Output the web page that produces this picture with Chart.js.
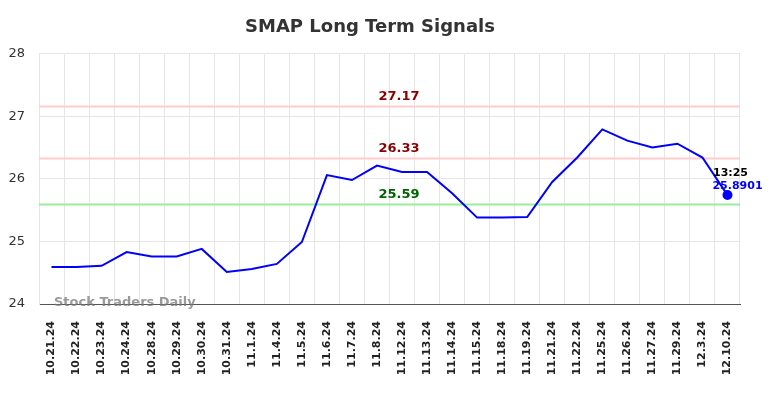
<!DOCTYPE html>
<html>
<head>
<meta charset="utf-8">
<script src="https://cdn.jsdelivr.net/npm/chart.js@4"></script>
<style>
  html, body { margin: 0; padding: 0; background: #fff; }
</style>
</head>
<body>
<canvas id="chart" width="784" height="398"></canvas>
<script>
// data
const dates = ['10.21.24', '10.22.24', '10.23.24', '10.24.24', '10.28.24', '10.29.24', '10.30.24', '10.31.24',
  '11.1.24', '11.4.24', '11.5.24', '11.6.24', '11.7.24', '11.8.24', '11.12.24', '11.13.24', '11.14.24',
  '11.15.24', '11.18.24', '11.19.24', '11.21.24', '11.22.24', '11.25.24', '11.26.24', '11.27.24',
  '11.29.24', '12.3.24', '12.10.24']
const prices = [24.59, 24.59, 24.61, 24.83, 24.76, 24.76, 24.88, 24.51, 24.56, 24.64, 24.99, 26.06, 25.98,
  26.21, 26.11, 26.11, 25.77, 25.38, 25.38, 25.39, 25.95, 26.34, 26.79, 26.61, 26.50, 26.56, 26.34, 25.74]
const levels = [27.17, 26.33, 25.59]
const levelLabels = ['27.17', '26.33', '25.59']
const yTicks = [24, 25, 26, 27, 28]
const lastTime = '13:25'
const lastPrice = '25.8901'

const levelLine = ['#ffcccc', '#ffcccc', '#99ee99']
const levelText = ['#8b0000', '#8b0000', '#006400']

// horizontal signal lines, watermark and last-price note
const extras = {
  id: 'extras',
  beforeDatasetsDraw(chart) {
    const ctx = chart.ctx
    const area = chart.chartArea
    const y = chart.scales.y
    ctx.save()
    levels.forEach((v, i) => {
      let py = Math.round(y.getPixelForValue(v)) + 0.5
      ctx.strokeStyle = levelLine[i]
      ctx.lineWidth = 2
      ctx.beginPath()
      ctx.moveTo(area.left, py)
      ctx.lineTo(area.right, py)
      ctx.stroke()
      ctx.fillStyle = levelText[i]
      ctx.font = 'bold 13px "DejaVu Sans"'
      ctx.textAlign = 'center'
      ctx.textBaseline = 'bottom'
      ctx.fillText(levelLabels[i], 399, py - 3)
    })
    ctx.restore()
  },
  afterDatasetsDraw(chart) {
    const ctx = chart.ctx
    const area = chart.chartArea
    const meta = chart.getDatasetMeta(0)
    const last = meta.data[meta.data.length - 1]
    ctx.save()
    ctx.font = 'bold 13px "DejaVu Sans"'
    ctx.fillStyle = 'rgba(120,120,120,0.75)'
    ctx.textAlign = 'left'
    ctx.textBaseline = 'middle'
    ctx.fillText('Stock Traders Daily', area.left + 15, area.bottom - 1)

    ctx.font = 'bold 11px "DejaVu Sans"'
    ctx.textAlign = 'center'
    ctx.textBaseline = 'alphabetic'
    ctx.fillStyle = '#000'
    ctx.fillText(lastTime, last.x + 3, last.y - 19)
    ctx.fillStyle = '#0000ff'
    ctx.fillText(lastPrice, last.x + 10, last.y - 6)
    ctx.restore()
  }
}

let ctx = document.getElementById('chart').getContext('2d')
let chart = new Chart(ctx, {
  type: 'line',
  data: {
    labels: dates,
    datasets: [{
      data: prices,
      borderColor: '#0000ff',
      backgroundColor: '#0000ff',
      borderWidth: 2,
      tension: 0,
      pointRadius: prices.map((p, i) => i === prices.length - 1 ? 4 : 0),
      pointHoverRadius: 0
    }]
  },
  options: {
    responsive: false,
    animation: false,
    devicePixelRatio: 1,
    layout: { padding: { left: 0, right: 44, top: 0, bottom: 0 } },
    plugins: {
      legend: { display: false },
      tooltip: { enabled: false },
      title: {
        display: true,
        text: 'SMAP Long Term Signals',
        color: '#333',
        font: { family: 'DejaVu Sans', size: 18, weight: 'bold' },
        padding: { top: 17, bottom: 15 }
      }
    },
    scales: {
      x: {
        offset: true,
        afterFit: axis => { axis.height = 94 },
        grid: { offset: true, color: '#e6e6e6', drawTicks: false },
        border: { color: '#555', width: 1 },
        ticks: {
          color: '#222',
          font: { family: 'DejaVu Sans', size: 11, weight: 'bold' },
          maxRotation: 90,
          minRotation: 90,
          autoSkip: false,
          padding: 17
        }
      },
      y: {
        min: yTicks[0],
        max: yTicks[yTicks.length - 1],
        afterBuildTicks: axis => { axis.ticks = yTicks.map(v => ({ value: v })) },
        afterFit: axis => { axis.width = 39 },
        grid: { color: '#e6e6e6', drawTicks: false },
        border: { color: '#e6e6e6' },
        ticks: {
          color: '#333',
          font: { family: 'DejaVu Sans', size: 13 },
          padding: 14
        }
      }
    }
  },
  plugins: [extras]
})
</script>
</body>
</html>
